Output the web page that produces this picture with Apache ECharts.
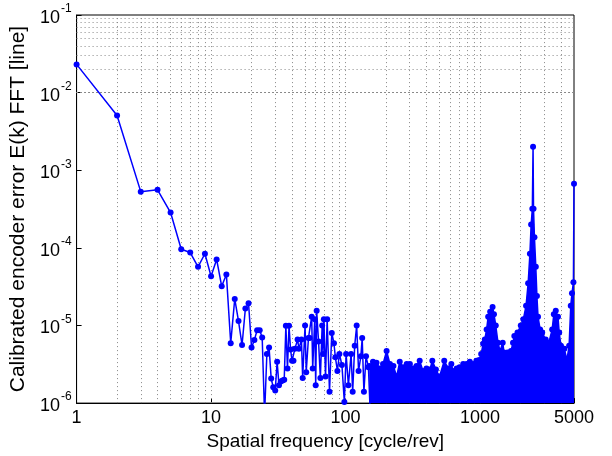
<!DOCTYPE html>
<html>
<head>
<meta charset="utf-8">
<script src="https://cdn.jsdelivr.net/npm/echarts@6/dist/echarts.min.js"></script>
<style>
html, body { margin: 0; padding: 0; background: #fff; }
#main { width: 612px; height: 456px; }
</style>
</head>
<body>
<div id="main"></div>
<script>
// low frequencies: individual harmonics
var lowFreq = [1, 2, 3, 4, 5, 6, 7, 8, 9, 10, 11, 12, 13, 14, 15, 16, 17, 18, 19, 20,
  21, 22, 23, 24, 25, 26, 27, 28, 29, 30, 31, 32, 33, 34, 35, 36, 37, 38, 39, 40,
  41, 42, 44, 45, 47, 48, 50, 51, 53, 54, 56, 57, 59, 60, 61, 63, 65, 67, 68, 69,
  71, 73, 76, 79, 82, 84, 87, 90, 94, 98, 101, 105, 110, 113, 117, 121, 125, 130,
  133, 137, 142, 148, 152];
var lowErr = [2.31e-2, 5.08e-3, 5.3e-4, 5.6e-4, 2.85e-4, 9.6e-5, 8.7e-5, 5.7e-5, 8.4e-5, 4.3e-5,
  7.1e-5, 3.2e-5, 4.55e-5, 5.9e-6, 2.2e-5, 1.14e-5, 5.6e-6, 1.66e-5, 1.93e-5, 5.2e-6,
  6.5e-6, 8.7e-6, 8.7e-6, 7.0e-6, 7e-7, 4.3e-6, 5.2e-6, 2.07e-6, 1.6e-6, 1.45e-6,
  3.4e-6, 1.7e-6, 1.9e-6, 1.95e-6, 2.0e-6, 9.9e-6, 2.8e-6, 9.9e-6, 4.9e-6, 3.5e-6,
  3.5e-6, 5.0e-6, 6.6e-6, 5.0e-6, 6.6e-6, 2.1e-6, 1.0e-5, 2.5e-6, 6.9e-6, 6.9e-6,
  1.3e-5, 2.8e-6, 1.2e-5, 1.7e-6, 1.55e-5, 6.2e-6, 2.1e-6, 1.0e-5, 4.3e-6, 1.2e-5,
  2.2e-6, 1.2e-5, 1.4e-6, 8.0e-6, 5.9e-6, 3.9e-6, 2.6e-6, 4.3e-6, 3.1e-6, 1.03e-6,
  4.3e-6, 1.7e-6, 4.3e-6, 1.4e-6, 5.5e-6, 1.0e-5, 2.6e-6, 4.0e-6,
  6.9e-6, 1.4e-6, 4.0e-6, 2.9e-6, 9e-7];

// high frequencies: dense band, upper edge of the points
var highFreq = [150, 160, 170, 180, 190, 202, 214, 227, 240, 253, 268, 285, 301, 318, 337,
  356, 377, 400, 423, 442, 470, 500, 542, 580, 612, 630, 670, 705, 750, 795, 840, 890,
  940, 985, 1020, 1055, 1085, 1120, 1150, 1190, 1240, 1270, 1310, 1360, 1410, 1475,
  1510, 1600, 1700, 1760, 1800, 1900, 2010, 2100, 2200, 2280, 2350, 2400, 2450, 2480,
  2500, 2540, 2600, 2650, 2700, 2800, 2900, 3080, 3250, 3440, 3540, 3660, 3800, 3880,
  4000, 4240, 4430, 4600, 4730, 4830, 4950, 5000];
var highErr = [3.0e-6, 3.4e-6, 3.3e-6, 2.8e-6, 3.2e-6, 4.7e-6, 3.2e-6, 3.0e-6, 2.2e-6, 3.4e-6,
  2.9e-6, 3.2e-6, 3.2e-6, 2.8e-6, 3.0e-6, 3.5e-6, 2.6e-6, 2.8e-6, 2.7e-6, 3.5e-6,
  2.7e-6, 2.2e-6, 3.5e-6, 2.8e-6, 3.2e-6, 2.6e-6, 2.8e-6, 2.9e-6, 3.2e-6, 3.2e-6,
  3.4e-6, 3.2e-6, 3.5e-6, 3.6e-6, 4.3e-6, 5.8e-6, 6.6e-6, 8.9e-6, 1.3e-5, 1.5e-5,
  1.73e-5, 1.4e-5, 1.0e-5, 6.0e-6, 4.7e-6, 6.0e-6, 4.5e-6, 4.5e-6, 4.7e-6, 6.0e-6,
  7.3e-6, 8.1e-6, 1.0e-5, 1.2e-5, 1.8e-5, 3.5e-5, 8.4e-5, 2.0e-4, 3.2e-4, 2.0e-3,
  3.2e-4, 1.37e-4, 5.7e-5, 2.4e-5, 1.3e-5, 8.9e-6, 8.1e-6, 6.6e-6, 6.0e-6, 8.9e-6,
  1.4e-5, 1.55e-5, 1.3e-5, 8.1e-6, 5.5e-6, 5.0e-6, 3.6e-6, 5.5e-6, 1.8e-5, 2.6e-5,
  3.6e-5, 6.7e-4];

var xMin = 1, xMax = 5000;
var yMin = 1e-6, yMax = 1e-1;
var blue = '#0000ff';
var font = 'Liberation Sans';

// dotted grid at 1..9 x 10^n (log paper)
var gridLines = [];
for (var e = 0; e <= 3; e++) {
  for (var d = 1; d <= 9; d++) {
    var v = d * Math.pow(10, e);
    if (v > xMin && v < xMax) gridLines.push({ xAxis: v });
  }
}
for (var e2 = -6; e2 <= -2; e2++) {
  for (var d2 = 1; d2 <= 9; d2++) {
    var w = d2 * Math.pow(10, e2);
    if (w > yMin * 1.001 && w < yMax * 0.999) gridLines.push({ yAxis: w });
  }
}

var lowData = lowFreq.map(function (k, i) { return [k, lowErr[i]]; });
var highData = highFreq.map(function (k, i) { return [k, highErr[i]]; });

var chart = echarts.init(document.getElementById('main'));
chart.setOption({
  animation: false,
  grid: {
    left: 75, top: 15, right: 38, bottom: 48,
    show: true, borderColor: '#000', borderWidth: 1, backgroundColor: '#fff'
  },
  xAxis: {
    type: 'log', logBase: 10, min: xMin, max: xMax,
    name: 'Spatial frequency [cycle/rev]',
    nameLocation: 'middle', nameGap: 24,
    nameTextStyle: { fontFamily: font, fontSize: 19, color: '#000' },
    axisLine: { lineStyle: { color: '#000' } },
    axisTick: { inside: true, length: 5, lineStyle: { color: '#000' } },
    splitLine: { show: false },
    axisLabel: {
      fontFamily: font, fontSize: 18, color: '#000', margin: 6,
      formatter: function (v) { return String(Math.round(v)); }
    }
  },
  yAxis: {
    type: 'log', logBase: 10, min: yMin, max: yMax,
    name: 'Calibrated encoder error E(k) FFT [line]',
    nameLocation: 'middle', nameGap: 43, nameRotate: 90,
    nameTextStyle: { fontFamily: font, fontSize: 21, color: '#000' },
    axisLine: { lineStyle: { color: '#000' } },
    axisTick: { inside: true, length: 5, lineStyle: { color: '#000' } },
    splitLine: { show: false },
    axisLabel: {
      color: '#000', margin: 5,
      formatter: function (v) {
        return '{b|10}{s|' + Math.round(Math.log10(v)) + '}';
      },
      rich: {
        b: { fontFamily: font, fontSize: 18, color: '#000', verticalAlign: 'bottom' },
        s: { fontFamily: font, fontSize: 12, color: '#000', verticalAlign: 'bottom', padding: [0, 0, 12, 1] }
      }
    }
  },
  series: [
    {
      type: 'line', data: [], z: 1, silent: true,
      markLine: {
        silent: true, symbol: 'none', z: 1, animation: false,
        label: { show: false },
        lineStyle: { color: '#888', width: 1, type: [1, 3] },
        data: gridLines
      }
    },
    {
      type: 'line', data: lowData, z: 3,
      symbol: 'circle', symbolSize: 6, showAllSymbol: true,
      lineStyle: { color: blue, width: 1.5 },
      itemStyle: { color: blue }
    },
    {
      type: 'line', data: highData, z: 3,
      symbol: 'circle', symbolSize: 6, showAllSymbol: true,
      lineStyle: { color: blue, width: 1.5 },
      itemStyle: { color: blue },
      areaStyle: { color: blue, opacity: 1, origin: 'start' }
    }
  ]
});
</script>
</body>
</html>
